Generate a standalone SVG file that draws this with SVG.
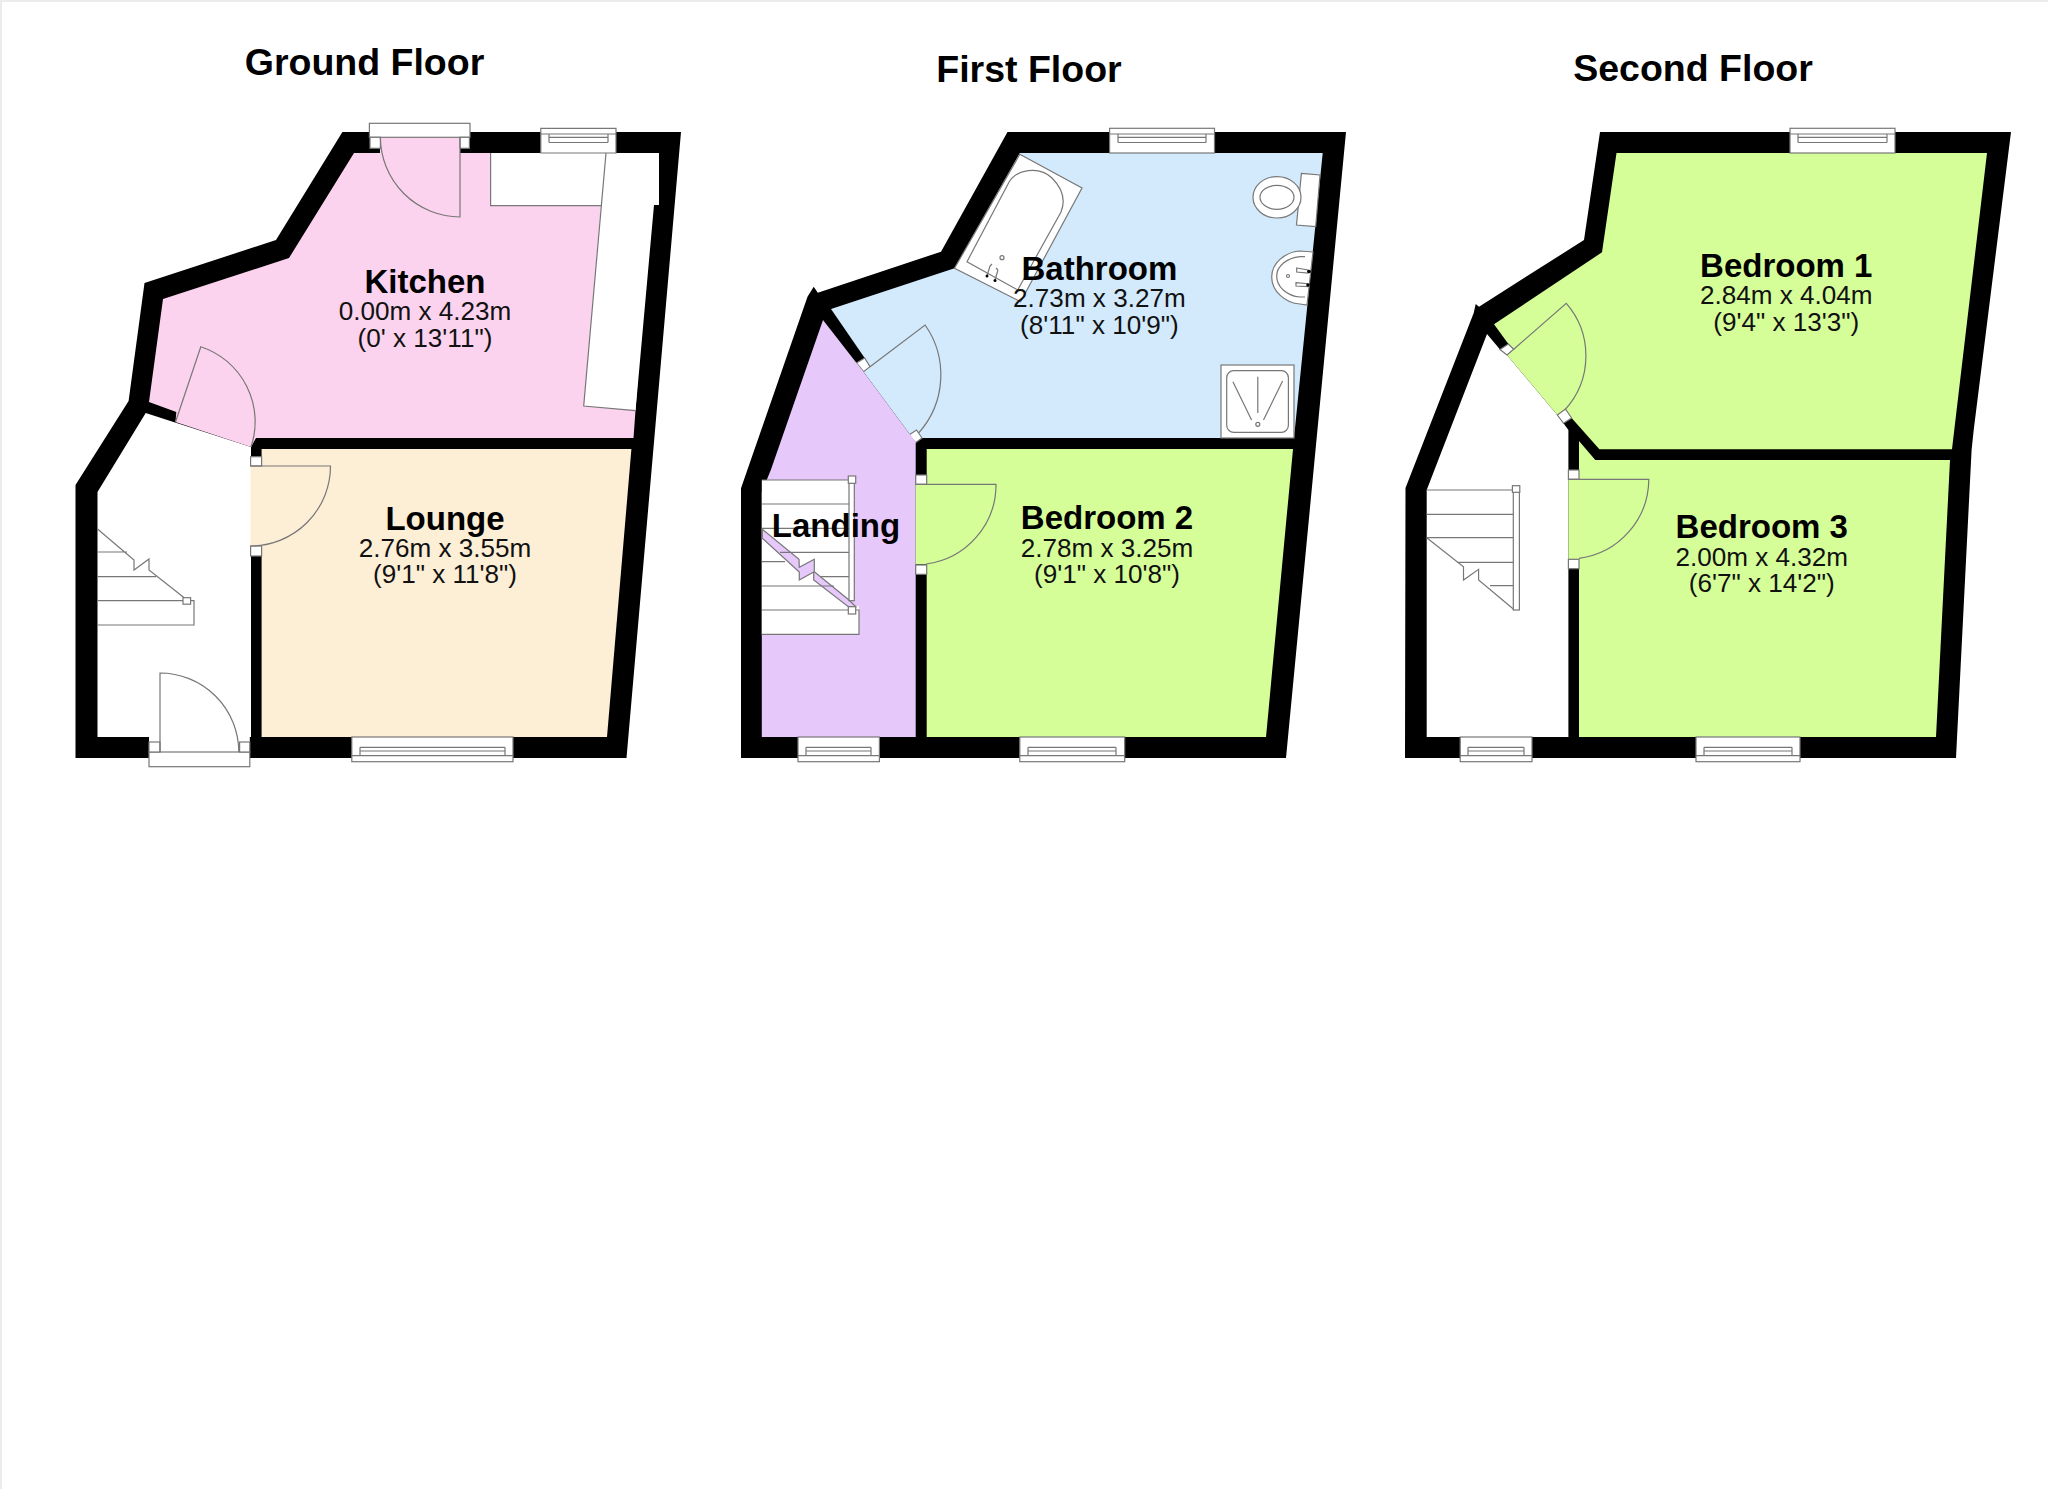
<svg xmlns="http://www.w3.org/2000/svg" width="2048" height="1489" viewBox="0 0 2048 1489">
<style>
.wall{fill:#000}
.ln{fill:none;stroke:#777;stroke-width:1.2}
.box{fill:#fff;stroke:#777;stroke-width:1.2}
.wh{fill:#fff}
.kit{fill:#fcd3ee}.lou{fill:#fdeed6}.bath{fill:#d2eafc}.land{fill:#e6c8fb}.bed{fill:#d5fd98}
text{font-family:"Liberation Sans",Arial,sans-serif;fill:#111;text-anchor:middle}
.t{font-size:37.5px;font-weight:700;fill:#000}
.n{font-size:33px;font-weight:700;fill:#000}
.d{font-size:26.1px}
</style>
<rect width="2048" height="1489" fill="#fff"/>
<path d="M1 0V1489M0 1H2048" stroke="#ececec" stroke-width="2" fill="none"/>

<g id="ground-floor">
<polygon class="wall" points="75.5,485 128.6,401 144.5,283 276,240 342.4,132 681,132 626.5,758 75.5,758"/>
<polygon class="wh" points="97.5,492 145.7,413 173.5,422 251,447 251,737 97.5,737"/>
<g id="kitchen">
<polygon class="kit" points="354,153 654,153 633.5,438 256,438 251,447 175.5,422 176.3,412 149,402 163,299 289,258"/>
<rect class="kit" x="380" y="130" width="80" height="24"/>
<polygon class="wh" points="490.6,153 659,153 659,205 654,205 635.5,410.7 583.7,406 600.8,205.7 490.6,205.7"/>
<path class="ln" d="M490.6 153V205.7H600.8M606 153L583.7 406L635.5 410.7"/>
<path class="box" d="M540.8 128.3H616V153H540.8Z"/>
<path class="ln" d="M540.8 134H616M549 137.3H608M549 142.5H608M549 134V142.5M608 134V142.5"/>
<rect class="box" x="369.4" y="123.3" width="100.6" height="14"/>
<rect class="box" x="370" y="137.3" width="10.4" height="11"/>
<rect class="box" x="460" y="137.3" width="9.4" height="11"/>
<path class="ln" d="M460 137.3V217A80 80 0 0 1 380.4 137.3"/>
<path class="ln" d="M175.5 422L200.8 346.7A79 79 0 0 1 251 447"/>
<text class="n" x="425" y="293">Kitchen</text>
<text class="d" x="425" y="320">0.00m x 4.23m</text>
<text class="d" x="425" y="346.5">(0' x 13'11")</text>
</g>
<g id="lounge">
<polygon class="lou" points="261.6,449 631.4,449 607,737 261.6,737"/>
<rect class="lou" x="250.6" y="466" width="12" height="80"/>
<rect class="box" x="250.6" y="456.7" width="11" height="9.3"/>
<rect class="box" x="250.6" y="546" width="11" height="10"/>
<path class="ln" d="M250.6 466H330.5A80 80 0 0 1 250.6 546"/>
<rect class="box" x="351.8" y="737" width="161.2" height="24.7"/>
<path class="ln" d="M360 747.3H505M360 751H505M351.8 755.7H513M360 747.3V755.7M505 747.3V755.7"/>
<text class="n" x="445" y="530">Lounge</text>
<text class="d" x="445" y="556.5">2.76m x 3.55m</text>
<text class="d" x="445" y="583">(9'1" x 11'8")</text>
</g>
<g id="hall">
<rect class="wh" x="149" y="737" width="100.8" height="21"/>
<rect class="box" x="149" y="752" width="100.8" height="14.7"/>
<rect class="box" x="149" y="742" width="11" height="10"/>
<rect class="box" x="239.6" y="742" width="10.2" height="10"/>
<path class="ln" d="M160 752V673A79 79 0 0 1 238.8 752"/>
<path class="ln" d="M97.5 529L134 560V570L149 559V570L184.5 598M97.5 552H127M97.5 576.7H156M97.5 600.7H194V625H97.5"/>
<rect class="box" x="183" y="597.7" width="7.6" height="6.5"/>
</g>
</g>

<g id="first-floor">
<polygon class="wall" points="741,488.3 807.5,296.7 813.7,286.7 817.8,292.7 941,251.7 1007.5,132 1346,132 1286,758 741,758"/>
<g id="bathroom">
<polygon class="bath" points="1019.8,153 1322.7,153 1294,438 921.8,438 916,441 910.4,435 863.5,371.7 858,362 864.7,358 831,309 954.5,268.3"/>
<polygon class="box" points="1019.8,154.3 1082,188 1020.6,301.7 954.5,268.3"/>
<path class="ln" d="M967 261.7L1007.5 185C1015 168 1040 166 1052 178C1064 190 1065 202 1061 212L1017.7 290Z"/>
<circle class="ln" cx="1002" cy="257.7" r="2"/>
<path class="ln" d="M987 275.7L990 266M995 280L998 270M992 264L990 266M996 268L998 270"/>
<circle cx="987" cy="276" r="1.5"/><circle cx="995" cy="280.5" r="1.5"/>
<polygon class="box" points="1301.4,173.3 1320,175 1315.7,226.7 1296.5,225"/>
<ellipse class="box" cx="1277" cy="197.3" rx="24" ry="20.7"/>
<ellipse class="ln" cx="1277" cy="197.3" rx="17" ry="12"/>
<path class="box" d="M1313 252L1300 251C1285 252 1271.7 263 1271.7 277C1271.7 291 1285 303 1300 304L1307 305Z"/>
<path class="ln" d="M1305 256.7H1300C1287 258 1276.7 266 1276.7 276C1276.7 287 1287 296 1300 297H1305"/>
<circle class="ln" cx="1288" cy="276" r="1.5"/>
<path class="box" d="M1296.7 268L1308 270V273L1296.7 272ZM1296 282.7L1307.7 283.7V286.7L1296 286Z"/>
<circle cx="1309" cy="271.5" r="1.8"/><circle cx="1308" cy="285" r="1.8"/>
<rect class="box" x="1221" y="365" width="73" height="73"/>
<rect class="ln" x="1226.7" y="370.7" width="61.7" height="61.6" rx="7"/>
<path class="ln" d="M1257.8 376.7V413M1232.9 381.7L1251.6 420M1282.6 381L1263.5 420"/>
<circle class="ln" cx="1257.8" cy="424.3" r="2"/>
<polygon class="box" points="856.5,363 864.7,358 870,366.7 863.5,371.7"/>
<polygon class="box" points="909,435 916.5,430 922,438 915.5,442.7"/>
<path class="ln" d="M870 366.7L925.1 325A87 87 0 0 1 918.6 433"/>
<rect class="box" x="1109.6" y="128.3" width="104.9" height="24.7"/>
<path class="ln" d="M1109.6 134H1214.5M1118 137.3H1206M1118 142.5H1206M1118 134V142.5M1206 134V142.5"/>
<text class="n" x="1099.4" y="280">Bathroom</text>
<text class="d" x="1099.4" y="306.5">2.73m x 3.27m</text>
<text class="d" x="1099.4" y="334">(8'11" x 10'9")</text>
</g>
<g id="landing">
<polygon class="land" points="823,320 856.5,363 863.5,371.7 910.4,435 915.7,442 915.7,737 761.8,737 761.8,492 770.8,470"/>
<rect class="wh" x="761.8" y="480" width="87.2" height="126"/>
<rect class="wh" x="761.8" y="606" width="97.2" height="28.3"/>
<polygon class="land" points="762.3,529.3 799,559.3 799.3,567.3 814.3,559.3 814.3,571.7 849,600 855.7,606.7 848.3,606.7 813.7,580 813.7,572 799.3,580 799.3,572 762.3,538.3" stroke="#777" stroke-width="1.2"/>
<path class="ln" d="M761.8 480H849M761.8 504H849M761.8 528.3H849M780 552.3H849M761.8 561.7H785M820 576.7H849M761.8 586H834M761.8 610H859V634.3H761.8"/>
<rect class="box" x="849" y="480" width="5.3" height="120.7"/>
<rect class="box" x="848.3" y="476" width="7.4" height="7.3"/>
<rect class="box" x="848.3" y="606.7" width="7.4" height="7.3"/>
<rect class="box" x="798" y="737" width="81.4" height="24.7"/>
<path class="ln" d="M806 747.3H871M806 751H871M798 755.7H879.4M806 747.3V755.7M871 747.3V755.7"/>
<text class="n" x="836" y="537">Landing</text>
</g>
<g id="bedroom-2">
<polygon class="bed" points="926.7,449 1293,449 1266,737 926.7,737"/>
<rect class="bed" x="915.7" y="484.3" width="12" height="80"/>
<rect class="box" x="915.7" y="475" width="11" height="9.3"/>
<rect class="box" x="915.7" y="565" width="11" height="9.3"/>
<path class="ln" d="M915.7 484.3H996A80 80 0 0 1 926 564"/>
<rect class="box" x="1019.8" y="737" width="104.9" height="24.7"/>
<path class="ln" d="M1028 747.3H1116M1028 751H1116M1019.8 755.7H1124.7M1028 747.3V755.7M1116 747.3V755.7"/>
<text class="n" x="1107" y="529">Bedroom 2</text>
<text class="d" x="1107" y="556.5">2.78m x 3.25m</text>
<text class="d" x="1107" y="583">(9'1" x 10'8")</text>
</g>
</g>

<g id="second-floor">
<polygon class="wall" points="1405.5,488 1473.7,313 1475.7,304 1479,306.7 1584,240 1600,132 2011,132 1973.7,430 1971.6,450 1956,758 1405,758"/>
<polygon class="wh" points="1426.7,490 1487,334 1500,349.5 1507,355 1557.3,415 1563.5,423.3 1568.4,430 1568.4,737 1426.7,737"/>
<g id="bedroom-1">
<polygon class="bed" points="1616.5,153 1987,153 1952,449.3 1599.4,449.3 1571.6,418 1565.5,409 1557.3,415 1507,355 1513.7,349.3 1508.4,344 1494,324.3 1602,252.3"/>
<polygon class="box" points="1500,349.5 1508.4,344 1513.7,349.3 1507,355"/>
<polygon class="box" points="1557.3,415 1565.5,409 1571.6,418 1563.5,423.3"/>
<path class="ln" d="M1513.7 349.3L1566.3 303.3A80 80 0 0 1 1564.7 410"/>
<rect class="box" x="1790" y="128.3" width="105" height="24.7"/>
<path class="ln" d="M1790 134H1895M1798 137.3H1887M1798 142.5H1887M1798 134V142.5M1887 134V142.5"/>
<text class="n" x="1786.3" y="276.5">Bedroom 1</text>
<text class="d" x="1786.3" y="304">2.84m x 4.04m</text>
<text class="d" x="1786.3" y="330.5">(9'4" x 13'3")</text>
</g>
<g id="bedroom-3">
<polygon class="bed" points="1579,441 1595.3,460 1950,460 1936,737 1579,737"/>
<rect class="bed" x="1568.4" y="479.3" width="11" height="80"/>
<rect class="box" x="1568.4" y="470" width="10.6" height="9.3"/>
<rect class="box" x="1568.4" y="559.3" width="10.6" height="9.4"/>
<path class="ln" d="M1568.4 479.3H1648.8A80 80 0 0 1 1579 558.3"/>
<rect class="box" x="1696" y="737" width="104" height="24.7"/>
<path class="ln" d="M1704 747.3H1792M1704 751H1792M1696 755.7H1800M1704 747.3V755.7M1792 747.3V755.7"/>
<text class="n" x="1761.8" y="538">Bedroom 3</text>
<text class="d" x="1761.8" y="565.5">2.00m x 4.32m</text>
<text class="d" x="1761.8" y="592.3">(6'7" x 14'2")</text>
</g>
<g id="hall-second">
<path class="ln" d="M1426.7 490H1513.3M1426.7 514.3H1513.3M1426.7 537.7H1513.3M1457 562.3H1513.3M1490 585.7H1513.3M1426.7 537.7L1463.5 566.7V580L1478.6 569.3V580L1514.5 610"/>
<rect class="box" x="1513.3" y="490" width="6.1" height="120"/>
<rect class="box" x="1512.4" y="485.7" width="7.4" height="6.6"/>
<rect class="box" x="1460.2" y="737" width="71.8" height="24.7"/>
<path class="ln" d="M1468 747.3H1524M1468 751H1524M1460.2 755.7H1532M1468 747.3V755.7M1524 747.3V755.7"/>
</g>
</g>

<g id="titles">
<text class="t" x="364.5" y="75">Ground Floor</text>
<text class="t" x="1029" y="82">First Floor</text>
<text class="t" x="1693" y="81">Second Floor</text>
</g>
</svg>
